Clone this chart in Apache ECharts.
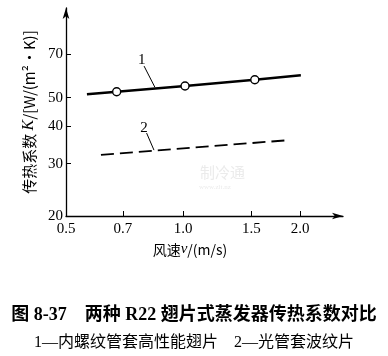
<!DOCTYPE html>
<html><head><meta charset="utf-8">
<script src="https://cdn.jsdelivr.net/npm/echarts@6/dist/echarts.min.js"></script>
<style>html,body{margin:0;padding:0;background:#fff}#c{width:388px;height:356px}</style>
</head><body><div id="c"></div>
<script>
// x ticks (wind speed, m/s) and y ticks (K)
const xTicks = [0.5, 0.7, 1.0, 1.5, 2.0];
const xTickLabels = ['0.5', '0.7', '1.0', '1.5', '2.0'];
const yTicks = [20, 30, 40, 50, 70];
const yTickLabels = ['20', '30', '40', '50', '70'];
// curve 1: internally threaded tube + high-performance fin (solid, circles)
const line1V = [0.566, 0.675, 1.012, 1.53, 2.01];
const line1K = [51.3, 52.3, 54.7, 57.4, 59.4];
const line1Marker = [false, true, true, true, false];
// curve 2: plain tube + corrugated fin (dashed)
const line2V = [0.615, 1.886];
const line2K = [32.1, 36.0];
// annotation labels and leader lines (data coordinates)
const labelNames = ['1', '2'];
const labelV = [0.783, 0.794];
const labelK = [66.9, 39.5];
const leaderStartV = [0.794, 0.806];
const leaderStartK = [63.8, 38.0];
const leaderEndV = [0.847, 0.842];
const leaderEndK = [54.1, 33.3];

const serif = '"Liberation Serif", "Noto Sans CJK SC", serif';
const cjk = '"Noto Sans CJK SC", "Liberation Serif", serif';

function lookup(ticks, labels, v) {
  let best = 0;
  for (let i = 0; i < ticks.length; i++) if (Math.abs(ticks[i] - v) < Math.abs(ticks[best] - v)) best = i;
  return labels[best];
}

const chart = echarts.init(document.getElementById('c'), null, {renderer: 'canvas'});
chart.setOption({
  animation: false,
  backgroundColor: '#fff',
  grid: {left: 66, right: 45, top: 8, bottom: 140},
  title: [
    {text: '图 8-37    两种 R22 翅片式蒸发器传热系数对比', left: 'center', top: 301,
     textStyle: {fontFamily: serif, fontSize: 18, fontWeight: 'bold', color: '#000'}},
    {text: '1—内螺纹管套高性能翅片    2—光管套波纹片', left: 'center', top: 330,
     textStyle: {fontFamily: serif, fontSize: 16, fontWeight: 'normal', color: '#000'}}
  ],
  xAxis: {
    type: 'log', logBase: 10, min: 0.5, max: 2.58,
    name: '风速{i|v}/(m/s)', nameLocation: 'middle', nameGap: 24,
    nameTextStyle: {fontFamily: cjk, fontSize: 14, color: '#000', padding: [0, 29, 0, 0],
      rich: {i: {fontFamily: serif, fontStyle: 'italic', fontSize: 15, color: '#000'}}},
    axisLine: {show: true, onZero: false, lineStyle: {color: '#000', width: 1.3},
      symbol: ['none', 'arrow'], symbolSize: [5, 11]},
    axisTick: {show: true, inside: true, length: 5, customValues: xTicks, lineStyle: {color: '#000'}},
    axisLabel: {customValues: xTicks, margin: 6, fontFamily: serif, fontSize: 15, color: '#000',
      formatter: v => lookup(xTicks, xTickLabels, v)},
    splitLine: {show: false}
  },
  yAxis: {
    type: 'log', logBase: 10, min: 20, max: 100,
    name: '传热系数 {i|K}/[W/(m²·K)]', nameLocation: 'middle', nameGap: 17, nameRotate: 90,
    nameTextStyle: {fontFamily: cjk, fontSize: 15, color: '#000',
      rich: {i: {fontFamily: serif, fontStyle: 'italic', fontSize: 16, color: '#000'}}},
    axisLine: {show: true, onZero: false, lineStyle: {color: '#000', width: 1.3},
      symbol: ['none', 'arrow'], symbolSize: [5, 11]},
    axisTick: {show: true, inside: true, length: 5, customValues: yTicks, lineStyle: {color: '#000'}},
    axisLabel: {customValues: yTicks, margin: 3, fontFamily: serif, fontSize: 15, color: '#000',
      formatter: v => lookup(yTicks, yTickLabels, v)},
    splitLine: {show: false}
  },
  graphic: [
    {type: 'text', left: 200, top: 165, style: {text: '制冷通', font: '15px "Noto Sans CJK SC"', fill: '#ebebeb'}},
    {type: 'text', left: 199, top: 184, style: {text: 'www.zlt.nz', font: '7px "Liberation Serif"', fill: '#ebebeb'}}
  ],
  series: [
    {
      type: 'line', name: '1',
      data: line1V.map((v, i) => ({value: [v, line1K[i]], symbol: line1Marker[i] ? 'circle' : 'none'})),
      symbolSize: 8, showSymbol: true,
      itemStyle: {color: '#fff', borderColor: '#000', borderWidth: 1.4},
      lineStyle: {color: '#000', width: 2.4},
      markLine: {
        silent: true, symbol: 'none',
        lineStyle: {color: '#000', width: 1, type: 'solid'},
        label: {show: false},
        data: [[{coord: [leaderStartV[0], leaderStartK[0]]}, {coord: [leaderEndV[0], leaderEndK[0]]}]]
      },
      markPoint: {
        symbol: 'circle', symbolSize: 1, itemStyle: {color: 'rgba(0,0,0,0)'},
        label: {show: true, position: 'inside', fontFamily: serif, fontSize: 15, color: '#000', formatter: p => p.name},
        data: [{name: labelNames[0], coord: [labelV[0], labelK[0]]}]
      }
    },
    {
      type: 'line', name: '2',
      data: line2V.map((v, i) => [v, line2K[i]]),
      symbol: 'none',
      lineStyle: {color: '#000', width: 1.8, type: [13, 6]},
      markLine: {
        silent: true, symbol: 'none',
        lineStyle: {color: '#000', width: 1, type: 'solid'},
        label: {show: false},
        data: [[{coord: [leaderStartV[1], leaderStartK[1]]}, {coord: [leaderEndV[1], leaderEndK[1]]}]]
      },
      markPoint: {
        symbol: 'circle', symbolSize: 1, itemStyle: {color: 'rgba(0,0,0,0)'},
        label: {show: true, position: 'inside', fontFamily: serif, fontSize: 15, color: '#000', formatter: p => p.name},
        data: [{name: labelNames[1], coord: [labelV[1], labelK[1]]}]
      }
    }
  ]
});
</script></body></html>
